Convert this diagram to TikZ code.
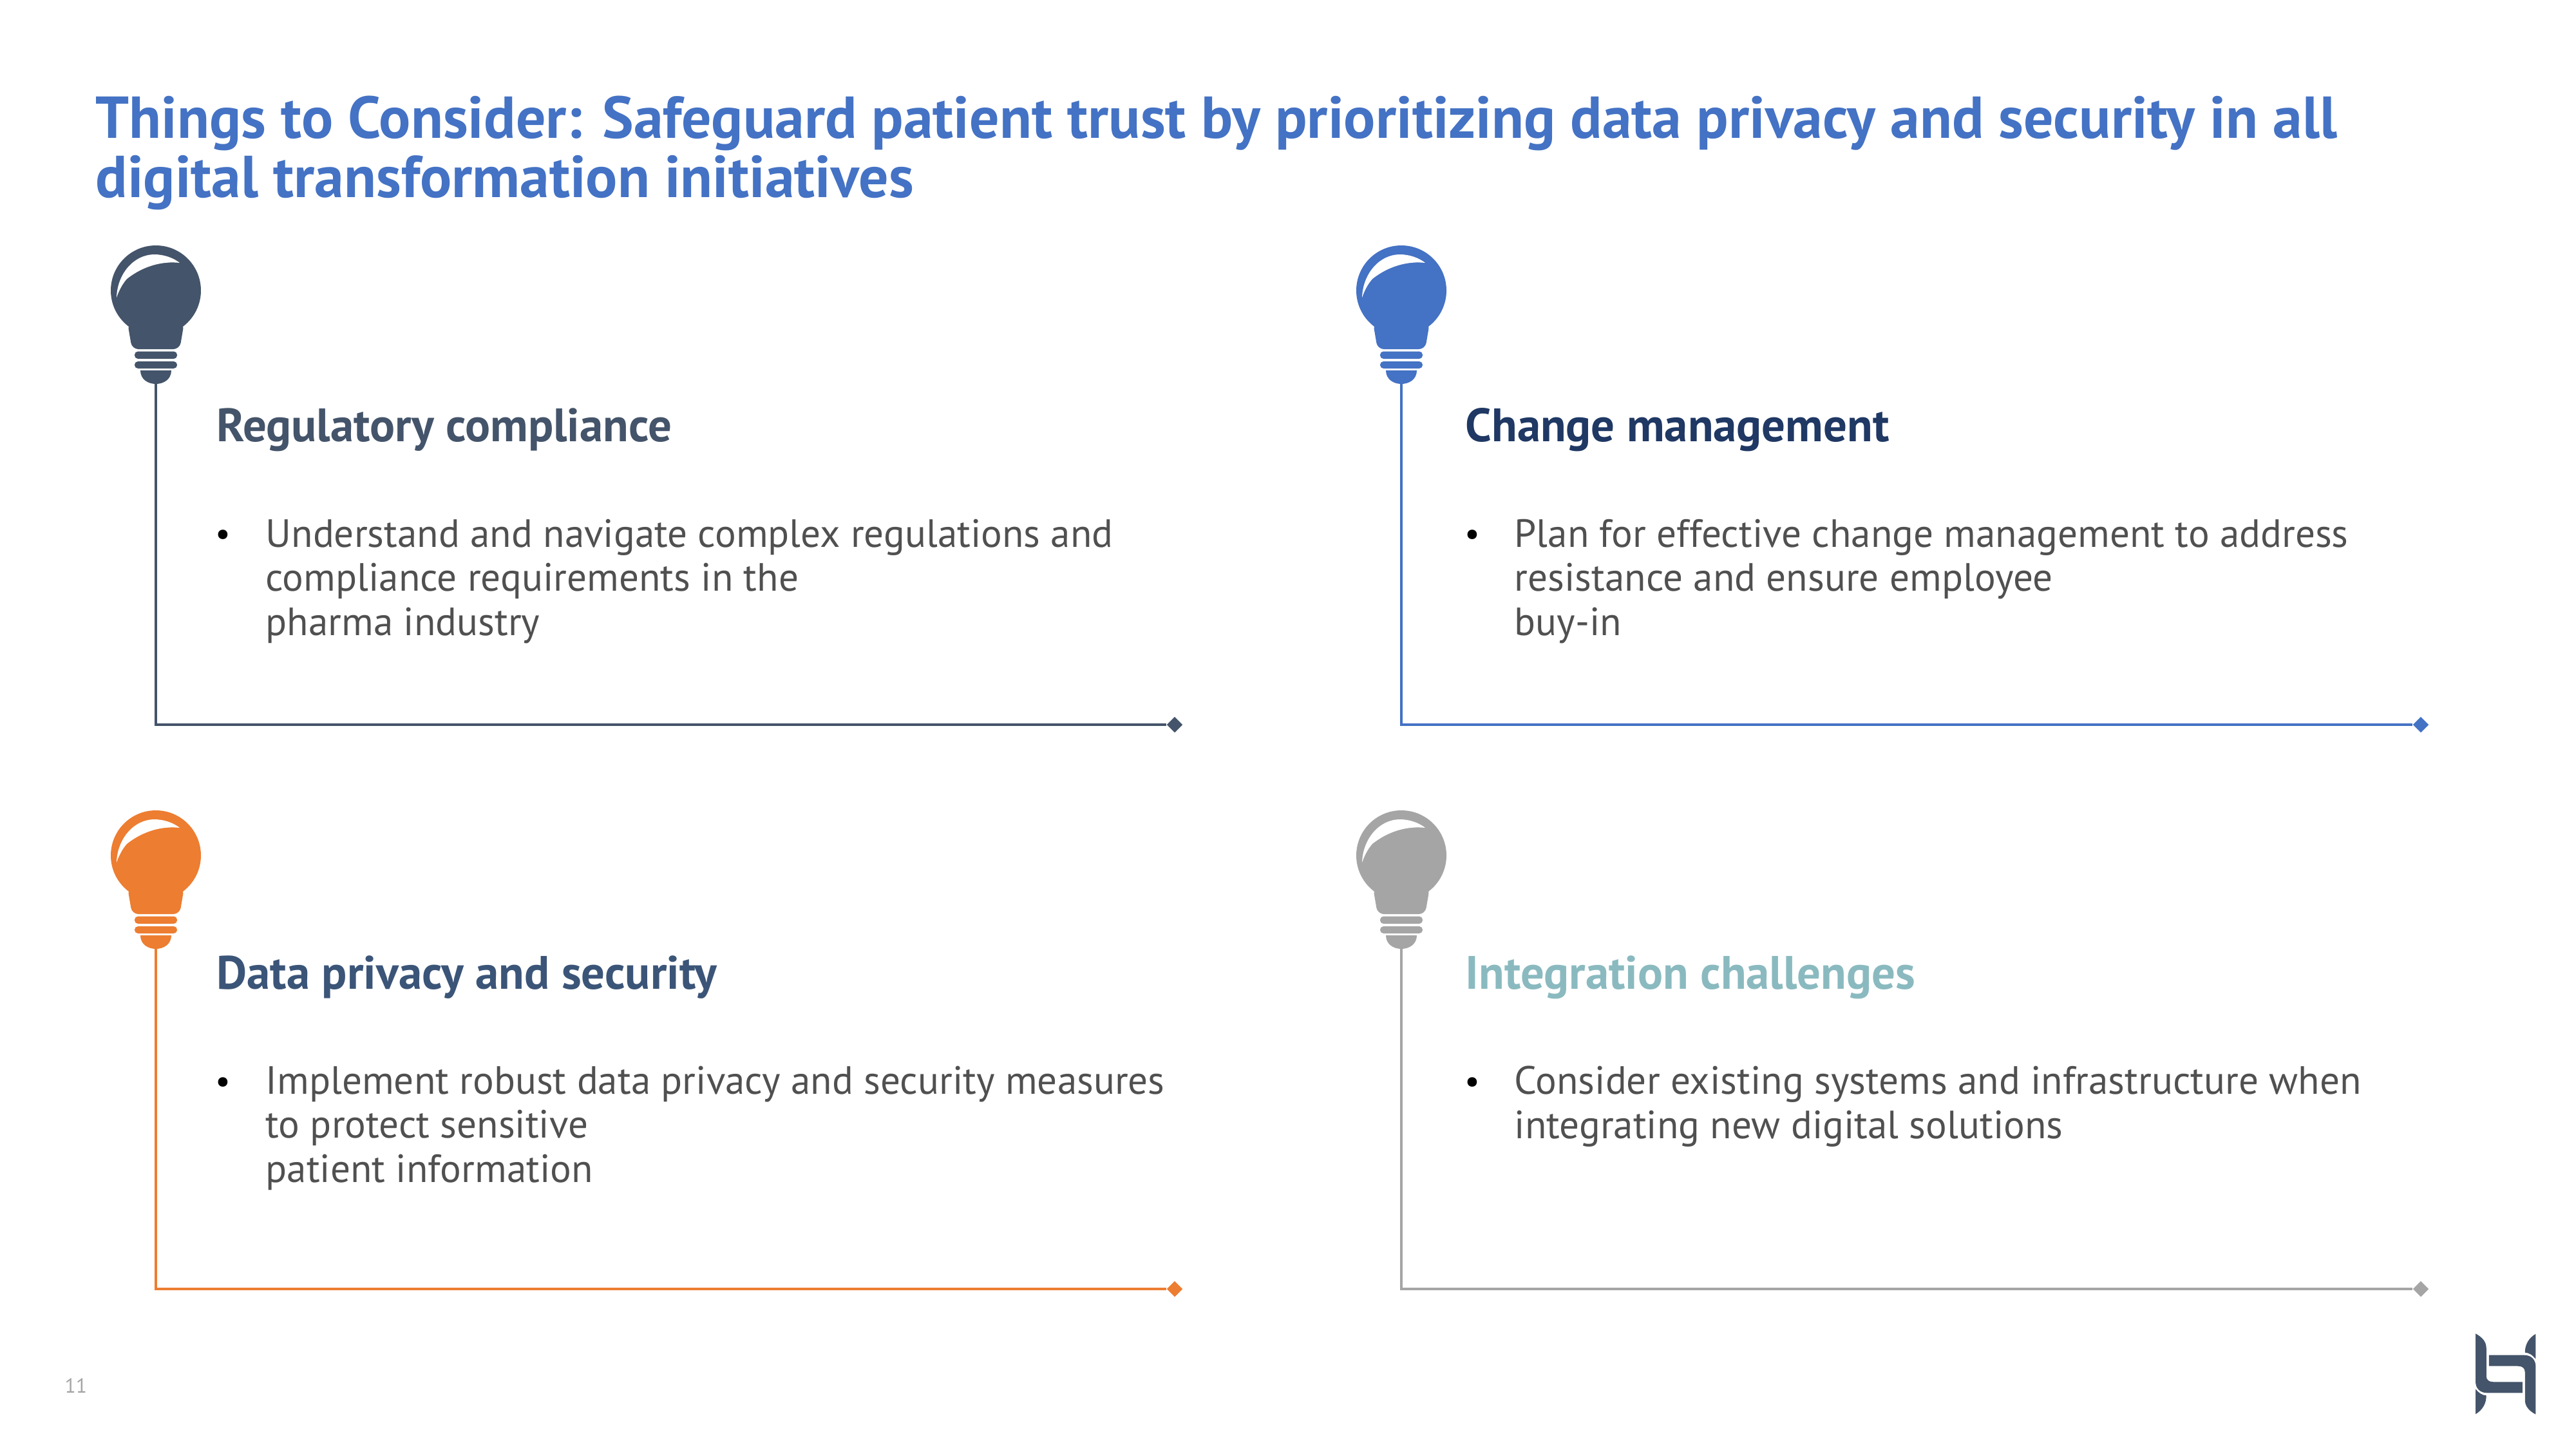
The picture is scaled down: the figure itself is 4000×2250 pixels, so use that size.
\documentclass[tikz,border=0pt]{standalone}
\usepackage{fontspec}
\setmainfont{PT Sans}
\usepackage{xcolor}
\usetikzlibrary{positioning}
\usetikzlibrary{shapes.geometric}
\definecolor{slate}{HTML}{44546A}
\definecolor{blue1}{HTML}{4472C4}
\definecolor{orange1}{HTML}{ED7D31}
\definecolor{grey1}{HTML}{A5A5A5}
\definecolor{navy}{HTML}{1F3864}
\definecolor{steel}{HTML}{3B5578}
\definecolor{teal1}{HTML}{8ABAC0}
\definecolor{body1}{HTML}{505050}
\tikzset{
  pics/bulb/.style = {code={
    \fill[#1] (0,0) circle [radius=70];
    \fill[#1,rounded corners=2.8pt] (-44,50) -- (-37,91) -- (37,91) -- (44,50) -- cycle;
    \fill[#1,rounded corners=1.5pt] (-33,94.5) rectangle (33,106);
    \fill[#1,rounded corners=1.5pt] (-33,110) rectangle (33,121);
    \fill[#1] (-24,124) .. controls (-24,138) and (-12,145) .. (0,145)
       .. controls (12,145) and (24,138) .. (24,124) -- cycle;
    \fill[white] (-61,11) .. controls (-60,-25) and (-35,-56) .. (-2,-56)
       .. controls (12,-56) and (27,-51) .. (37,-43)
       .. controls (10,-46) and (-20,-38) .. (-45,-18)
       .. controls (-53,-9) and (-58,2) .. (-61,11) -- cycle;
    \coordinate (-tip) at (0,145);
  }},
  pics/logohalf/.style = {code={
    \fill[slate] (-46.7,-62.7) .. controls (-36,-57) and (-30,-50) .. (-30,-40)
       -- (-30,3) .. controls (-30,9) and (-26,12.3) .. (-19,12.3) -- (26,12.3) -- (26,29.3)
       -- (-29,29.3) .. controls (-40,29.3) and (-46.7,22) .. (-46.7,11.7) -- cycle;
    \fill[slate] (-46.7,23.3) .. controls (-42,29) and (-37,33) .. (-30,33.3)
       .. controls (-30,46) and (-36,56) .. (-46.7,62.3) -- cycle;
  }}
}
\begin{document}
\begin{tikzpicture}[x=0.01cm,y=-0.01cm,
  head/.style = {font=\fontsize{20.7}{22}\selectfont\bfseries,anchor=base west,inner sep=0pt},
  bodytext/.style = {font=\fontsize{17.4}{19.6}\selectfont,text=body1,align=left,anchor=north west,inner sep=0pt},
  dot/.style = {font=\fontsize{15}{19.6}\selectfont,text=black,inner sep=0pt,anchor=base west},
  tipmark/.style = {diamond,fill=#1,minimum size=0.25cm,inner sep=0pt},
  rule/.style = {draw=#1,line width=1.3pt}
]
\useasboundingbox (0,0) rectangle (4000,2250);
\node[font=\fontsize{26.1}{26.2}\selectfont\bfseries,text=blue1,align=left,anchor=north west,inner sep=0pt] (title) at (148,148)
  {Things to Consider: Safeguard patient trust by prioritizing data privacy and security in all\\digital transformation initiatives};
% cards
\pic (b1) at (242,451) {bulb={slate}};
\pic (b2) at (2176,451) {bulb={blue1}};
\pic (b3) at (242,1328) {bulb={orange1}};
\pic (b4) at (2176,1328) {bulb={grey1}};
\node[tipmark=slate] (e1) at (1824,1125) {};
\node[tipmark=blue1] (e2) at (3759,1125) {};
\node[tipmark=orange1] (e3) at (1824,2001) {};
\node[tipmark=grey1] (e4) at (3759,2001) {};
\draw[rule=slate] (b1-tip) |- (e1);
\draw[rule=blue1] (b2-tip) |- (e2);
\draw[rule=orange1] (b3-tip) |- (e3);
\draw[rule=grey1] (b4-tip) |- (e4);
\node[head,text=slate] (h1) at (336,685) {Regulatory compliance};
\node[head,text=navy] (h2) at (2275,685) {Change management};
\node[head,text=steel] (h3) at (336,1535) {Data privacy and security};
\node[head,text=teal1] (h4) at (2275,1535) {Integration challenges};
\node[dot] (d1) at (334,846) {•};
\node[dot] (d2) at (2274,846) {•};
\node[dot] (d3) at (334,1696) {•};
\node[dot] (d4) at (2274,1696) {•};
\node[bodytext] (t1) at (412,805) {Understand and navigate complex regulations and\\compliance requirements in the\\pharma industry};
\node[bodytext] (t2) at (2351,805) {Plan for effective change management to address\\resistance and ensure employee\\buy-in};
\node[bodytext] (t3) at (412,1654) {Implement robust data privacy and security measures\\to protect sensitive\\patient information};
\node[bodytext] (t4) at (2351,1654) {Consider existing systems and infrastructure when\\integrating new digital solutions};
\node[font=\fontsize{9}{12}\selectfont,text=grey1,anchor=base west,inner sep=0pt] (num) at (100,2162) {11};
\pic (l1) at (3890.7,2133) {logohalf};
\pic[rotate=180] (l2) at (3890.7,2133) {logohalf};
\end{tikzpicture}
\end{document}
